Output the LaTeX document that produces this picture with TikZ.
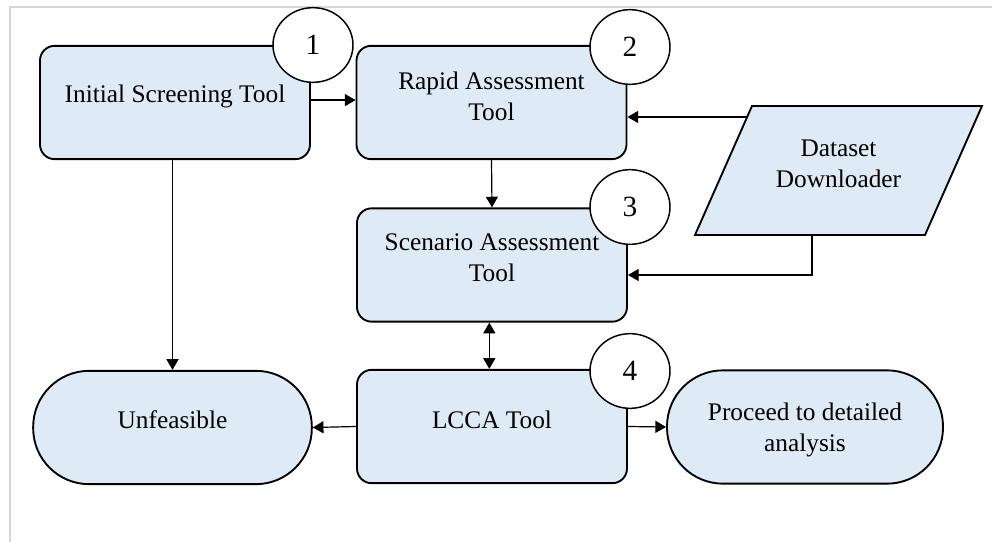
\documentclass[tikz,border=0pt]{standalone}
\usepackage{fontspec}
\setmainfont{Liberation Serif}
\usetikzlibrary{shapes.geometric,arrows.meta,calc}
\definecolor{boxfill}{HTML}{DEEAF6}
\definecolor{framegray}{HTML}{D6D6D6}
\begin{document}
\begin{tikzpicture}[x=0.75pt,y=-0.75pt,
  every node/.style={font=\fontsize{19}{23}\selectfont},
  tool/.style={draw=black, line width=1.4pt, fill=boxfill, rounded corners=11pt,
    minimum width=202.5pt, minimum height=85pt, inner sep=0pt},
  term/.style={draw=black, line width=1.4pt, fill=boxfill, rounded corners=42pt,
    minimum height=85pt, inner sep=0pt},
  num/.style={draw=black, ellipse, fill=white, line width=1.1pt,
    minimum width=60pt, minimum height=56pt, inner sep=0pt, font=\fontsize{22}{26}\selectfont},
  txt/.style={align=center, inner sep=0pt},
  conn/.style={line width=0.9pt, -{Triangle[length=8pt,width=9pt]}},
  dconn/.style={line width=0.9pt, {Triangle[length=8pt,width=9pt]}-{Triangle[length=8pt,width=9pt]}}
]
\useasboundingbox (0,0) rectangle (992,542);
% frame
\draw[framegray, line width=1.5pt] (10,542) -- (10,7) -- (992,7);

% boxes
\node[tool] (b1) at (175,102.5) {};
\node[tool] (b2) at (491.5,102.5) {};
\node[tool] (b3) at (492,265) {};
\node[tool] (b4) at (492,426.5) {};
\node[term, minimum width=209pt] (unf) at (172.5,427.5) {};
\node[term, minimum width=207pt] (pro) at (805,427) {};

% parallelogram
\coordinate (p1) at (695,235);
\coordinate (p2) at (752,106);
\coordinate (p3) at (982,106);
\coordinate (p4) at (925,235);
\draw[line width=1.4pt, fill=boxfill, line join=miter] (p1) -- (p2) -- (p3) -- (p4) -- cycle;
\coordinate (dl) at (747,117);
\coordinate (db) at (812,235);

% texts
\node[txt] (t1) at (175,96.5) {Initial Screening Tool};
\node[txt] (t2) at (491.5,96.5) {Rapid Assessment\\Tool};
\node[txt] (t3) at (492,258) {Scenario Assessment\\Tool};
\node[txt] (t4) at (492,420) {LCCA Tool};
\node[txt] (t5) at (172.5,420) {Unfeasible};
\node[txt] (t6) at (805,430) {Proceed to detailed\\analysis};
\node[txt] (dd) at (838.5,164) {Dataset\\Downloader};

% connectors
\draw[conn] ([yshift=1.8pt]b1.east) -- ([yshift=1.8pt]b2.west);
\draw[conn] (b2.south) -- (b3.north);
\draw[dconn] ([xshift=-2pt]b3.south) -- ([xshift=-2pt]b4.north);
\draw[conn] (unf.north |- b1.south) -- (unf.north);
\draw[conn] (b4.west) -- (unf.east);
\draw[conn] (b4.east) -- (pro.west);
\draw[conn] (dl) -- (dl -| b2.east);
\draw[conn] (db) |- ([yshift=-7.5pt]b3.east);

% numbered circles
\node[num] (c1) at (313,45) {1};
\node[num] (c2) at (630,47) {2};
\node[num] (c3) at (630,207) {3};
\node[num] (c4) at (630,371) {4};
\end{tikzpicture}
\end{document}
